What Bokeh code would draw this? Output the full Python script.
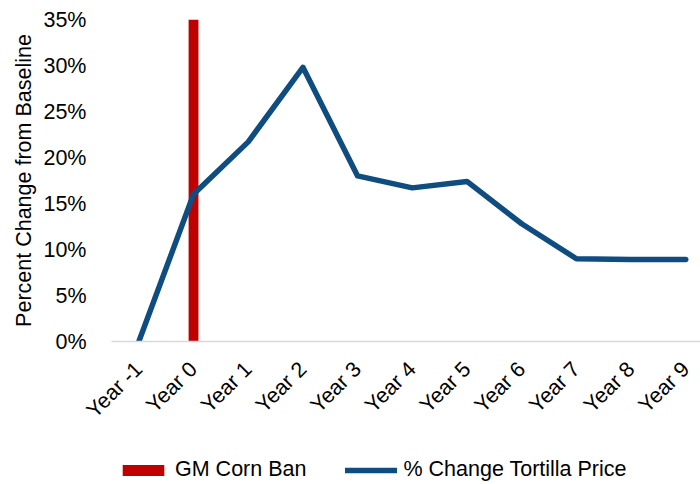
from bokeh.plotting import figure
from bokeh.layouts import column
from bokeh.models import (ColumnDataSource, Range1d, FixedTicker, Legend, LegendItem)
from bokeh.embed import file_html
from bokeh.resources import INLINE

# ---------------- data ----------------
categories = ["Year -1", "Year 0", "Year 1", "Year 2", "Year 3", "Year 4",
              "Year 5", "Year 6", "Year 7", "Year 8", "Year 9"]
tortilla_price_change = [0.0, 16.0, 21.7, 29.8, 18.0, 16.7, 17.4, 12.8, 9.0, 8.9, 8.9]
ban_categories = ["Year 0"]
ban_values = [35.0]
y_ticks = [0, 5, 10, 15, 20, 25, 30, 35]
y_tick_labels = ["0%", "5%", "10%", "15%", "20%", "25%", "30%", "35%"]
series_labels = ["GM Corn Ban", "% Change Tortilla Price"]

FONT = "Liberation Sans"
FS = "21.5px"
BLUE = "#0F4D80"
RED = "#C00000"

idx = list(range(len(categories)))
line_src = ColumnDataSource(dict(x=idx, y=tortilla_price_change))
ban_src = ColumnDataSource(dict(x=[categories.index(c) for c in ban_categories], top=ban_values))

# ---------------- main chart ----------------
p = figure(width=700, height=441, output_backend="svg", toolbar_location=None,
           x_range=Range1d(-0.5, 10.27), y_range=Range1d(0, 35),
           min_border_left=111, min_border_right=0, min_border_top=19,
           min_border_bottom=100)
p.outline_line_color = None
p.xgrid.visible = False
p.ygrid.visible = False

bar_style = dict(fill_color=RED, line_color=None)
line_style = dict(line_color=BLUE, line_width=5.5, line_join="round", line_cap="round")

p.vbar(x="x", top="top", bottom=0, width=0.18, source=ban_src, **bar_style)
p.line(x="x", y="y", source=line_src, **line_style)

xa = p.xaxis[0]
xa.ticker = FixedTicker(ticks=idx)
xa.major_label_overrides = {i: c for i, c in zip(idx, categories)}
xa.major_label_orientation = 0.785398
xa.major_tick_line_color = None
xa.minor_tick_line_color = None
xa.axis_line_color = "#D9D9D9"
xa.axis_line_width = 1.5
xa.major_label_text_font = FONT
xa.major_label_text_font_size = FS
xa.major_label_text_color = "black"
xa.major_label_standoff = 18

ya = p.yaxis[0]
ya.ticker = FixedTicker(ticks=y_ticks)
ya.major_label_overrides = {t: l for t, l in zip(y_ticks, y_tick_labels)}
ya.axis_line_color = None
ya.major_tick_line_color = None
ya.minor_tick_line_color = None
ya.major_label_text_font = FONT
ya.major_label_text_font_size = FS
ya.major_label_text_color = "black"
ya.major_label_standoff = 19
ya.axis_label = "Percent Change from Baseline"
ya.axis_label_text_font = FONT
ya.axis_label_text_font_size = FS
ya.axis_label_text_font_style = "normal"
ya.axis_label_text_color = "black"
ya.axis_label_standoff = 4

# ---------------- legend strip ----------------
lg = figure(width=700, height=43, output_backend="svg", toolbar_location=None,
            x_range=Range1d(100, 101), y_range=Range1d(100, 101),
            x_axis_location=None, y_axis_location=None,
            min_border_left=0, min_border_right=0, min_border_top=0, min_border_bottom=0)
lg.outline_line_color = None
lg.grid.visible = False
lbar = lg.vbar(x="x", top="top", bottom=0, width=0.18, source=ban_src, **bar_style)
lline = lg.line(x="x", y="y", source=line_src, **line_style)

legend = Legend(items=[LegendItem(label=series_labels[0], renderers=[lbar]),
                       LegendItem(label=series_labels[1], renderers=[lline])],
                orientation="horizontal", location=(6, 2),
                label_text_font=FONT, label_text_font_size=FS, label_text_color="black",
                label_standoff=6, spacing=39, glyph_width=52, glyph_height=14,
                padding=0, margin=0, border_line_color=None, background_fill_alpha=0)
lg.add_layout(legend, "center")

open("out.html", "w").write(file_html(column(p, lg, spacing=0), INLINE))
